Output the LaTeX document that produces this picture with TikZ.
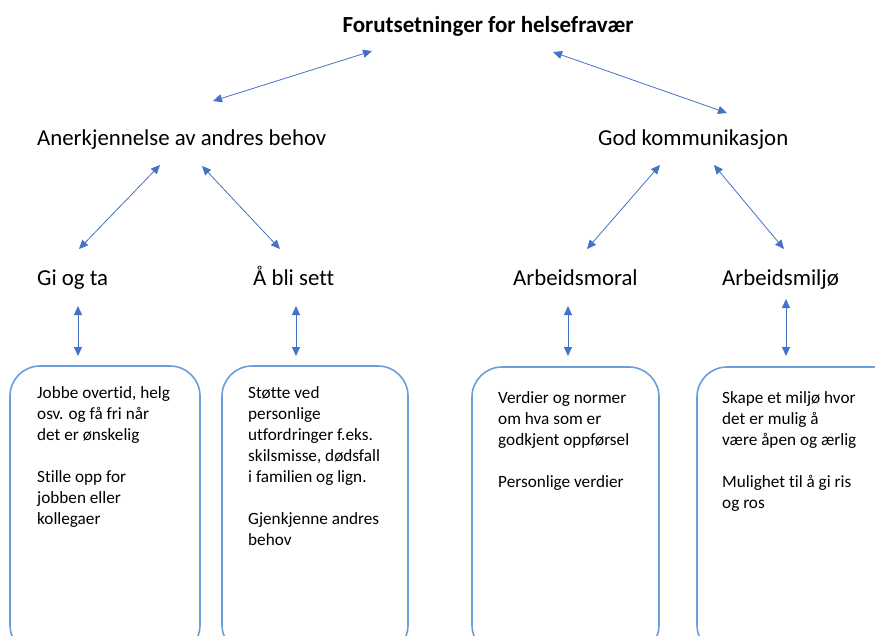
\documentclass[tikz,border=0pt]{standalone}
\usepackage{fontspec}
\setmainfont{Carlito}[Ligatures={NoCommon,NoContextual}]
\usetikzlibrary{arrows.meta}
\definecolor{arrowblue}{HTML}{4472C4}
\definecolor{boxblue}{HTML}{6A9FD8}
\tikzset{
  head/.style={font=\fontsize{23}{27}\selectfont\bfseries, inner sep=0pt, anchor=base},
  label/.style={font=\fontsize{22.8}{27}\selectfont, inner sep=0pt, anchor=base west},
  cardtext/.style={font=\fontsize{17.2}{21}\selectfont, inner sep=0pt, anchor=north west, align=left},
  card/.style={draw=boxblue, line width=1.6pt, rounded corners=30pt},
  link/.style={draw=arrowblue, line width=0.8pt, {Triangle[length=9pt,width=8pt]}-{Triangle[length=9pt,width=8pt]}, arrowblue}
}
\begin{document}
\begin{tikzpicture}[x=1pt,y=-1pt]
  \useasboundingbox (0,0) rectangle (875,636);
  \clip (0,0) rectangle (875,636);
  \fill[white] (0,0) rectangle (875,636);

  % title and categories
  \node[head] (top) at (488,33) {Forutsetninger for helsefravær};
  \node[label] (ane) at (37,146) {Anerkjennelse av andres behov};
  \node[label] (god) at (598,146) {God kommunikasjon};
  \node[label] (gi) at (37,286) {Gi og ta};
  \node[label] (bli) at (253,286) {Å bli sett};
  \node[label] (moral) at (513,286) {Arbeidsmoral};
  \node[label] (miljo) at (722,286) {Arbeidsmiljø};

  % cards
  \draw[card] (10,366) rectangle (200,655);
  \draw[card] (222,366) rectangle (408,655);
  \draw[card] (472,367) rectangle (659,655);
  \draw[card] (697,367) rectangle (905,655);

  \node[cardtext] (c1) at (37,386) {Jobbe overtid, helg\\osv. og få fri når\\det er ønskelig\\[21pt]Stille opp for\\jobben eller\\kollegaer};
  \node[cardtext] (c2) at (248,386) {Støtte ved\\personlige\\utfordringer f.eks.\\skilsmisse, dødsfall\\i familien og lign.\\[21pt]Gjenkjenne andres\\behov};
  \node[cardtext] (c3) at (498,391) {Verdier og normer\\om hva som er\\godkjent oppførsel\\[21pt]Personlige verdier};
  \node[cardtext] (c4) at (722,391) {Skape et miljø hvor\\det er mulig å\\være åpen og ærlig\\[21pt]Mulighet til å gi ris\\og ros};

  % connector end points
  \coordinate (top-l) at (372,51);
  \coordinate (top-r) at (553,52);
  \coordinate (ane-u) at (213,101);
  \coordinate (god-u) at (727,113);
  \coordinate (ane-l) at (160,165);
  \coordinate (ane-r) at (202,166);
  \coordinate (god-l) at (660,165);
  \coordinate (god-r) at (714,165);
  \coordinate (gi-u) at (79,249);
  \coordinate (bli-u) at (280,249);
  \coordinate (moral-u) at (587,249);
  \coordinate (miljo-u) at (784,249);
  \coordinate (gi-d) at (78,306);
  \coordinate (bli-d) at (296,306);
  \coordinate (moral-d) at (568,306);
  \coordinate (miljo-d) at (786,299);
  \coordinate (c1-u) at (78,356);
  \coordinate (c2-u) at (296,356);
  \coordinate (c3-u) at (568,356);
  \coordinate (c4-u) at (786,356);

  % connectors
  \draw[link] (top-l) -- (ane-u);
  \draw[link] (top-r) -- (god-u);
  \draw[link] (ane-l) -- (gi-u);
  \draw[link] (ane-r) -- (bli-u);
  \draw[link] (god-l) -- (moral-u);
  \draw[link] (god-r) -- (miljo-u);
  \draw[link] (gi-d) -- (c1-u);
  \draw[link] (bli-d) -- (c2-u);
  \draw[link] (moral-d) -- (c3-u);
  \draw[link] (miljo-d) -- (c4-u);
\end{tikzpicture}
\end{document}
